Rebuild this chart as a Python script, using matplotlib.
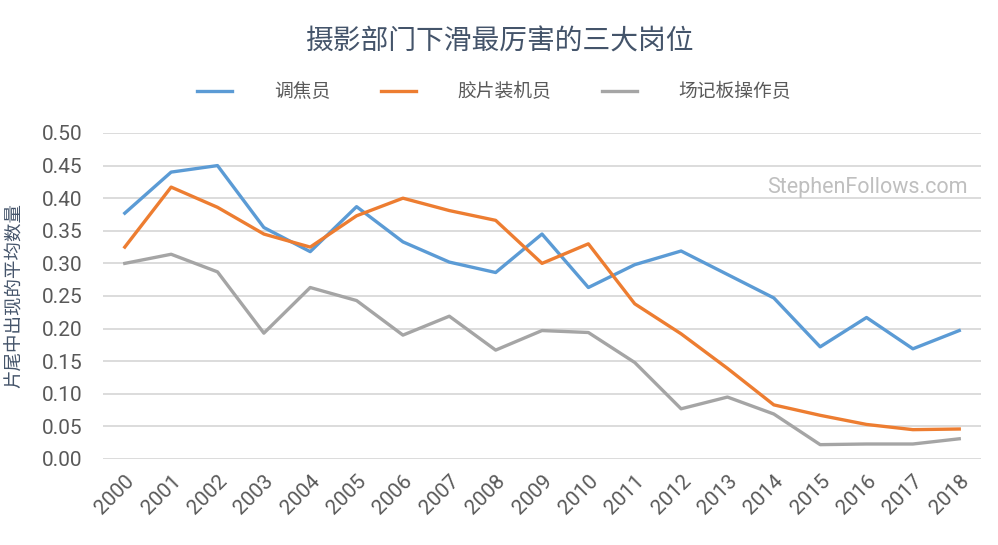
import matplotlib
matplotlib.use('Agg')
from matplotlib import pyplot as plt

plt.rcParams['font.family'] = ['Roboto', 'Noto Sans CJK SC', 'DejaVu Sans']

years = [str(y) for y in range(2000, 2019)]
focus_puller = [0.377, 0.440, 0.450, 0.355, 0.318, 0.387, 0.333, 0.302, 0.286, 0.345,
                0.263, 0.298, 0.319, 0.283, 0.247, 0.172, 0.217, 0.169, 0.197]
film_loader = [0.325, 0.417, 0.386, 0.345, 0.325, 0.373, 0.400, 0.381, 0.366, 0.300,
               0.330, 0.238, 0.192, 0.139, 0.083, 0.067, 0.053, 0.045, 0.046]
clapper_loader = [0.300, 0.314, 0.287, 0.193, 0.263, 0.243, 0.190, 0.219, 0.167, 0.197,
                  0.194, 0.148, 0.077, 0.095, 0.069, 0.022, 0.023, 0.023, 0.031]
series_names = ['调焦员', '胶片装机员', '场记板操作员']
yticks = [0.0, 0.05, 0.10, 0.15, 0.20, 0.25, 0.30, 0.35, 0.40, 0.45, 0.50]

fig = plt.figure(figsize=(9.98, 5.45), dpi=100)
ax = fig.add_axes([0.1032, 0.1578, 0.8798, 0.5982])

x = range(len(years))
colors = ['#5b9bd5', '#ed7d31', '#a5a5a5']
for vals, name, c in zip([focus_puller, film_loader, clapper_loader], series_names, colors):
    ax.plot(x, vals, color=c, lw=2.4, label=name)

ax.set_xlim(-0.47, 18.47)
ax.set_ylim(0, 0.5)
ax.set_yticks(yticks)
ax.set_yticklabels([f'{v:.2f}' for v in yticks])
ax.set_xticks(list(x))
ax.set_xticklabels(years, rotation=45, ha='right', rotation_mode='anchor')
ax.tick_params(axis='both', length=0, labelsize=15, labelcolor='#595959')
ax.tick_params(axis='x', pad=9)
ax.tick_params(axis='y', pad=15)
ax.grid(axis='y', color='#d9d9d9', lw=1.3)
ax.set_axisbelow(True)
for s in ax.spines.values():
    s.set_visible(False)

ax.set_ylabel('片尾中出现的平均数量', fontsize=13.3, color='#44546a')
ax.yaxis.set_label_coords(-0.09, 0.5)

fig.text(0.5, 0.922, '摄影部门下滑最厉害的三大岗位', ha='center', va='center',
         fontsize=20, color='#44546a')
ax.text(0.985, 0.832, 'StephenFollows.com', transform=ax.transAxes, ha='right', va='center',
        fontsize=15.5, color='#bfbfbf')

fig.legend(loc='center', bbox_to_anchor=(0.495, 0.831), ncol=3, frameon=False,
           fontsize=13.5, handlelength=1.9, handletextpad=2.2, columnspacing=2.7,
           labelcolor='#595959')

plt.savefig('out.png', dpi=100)
